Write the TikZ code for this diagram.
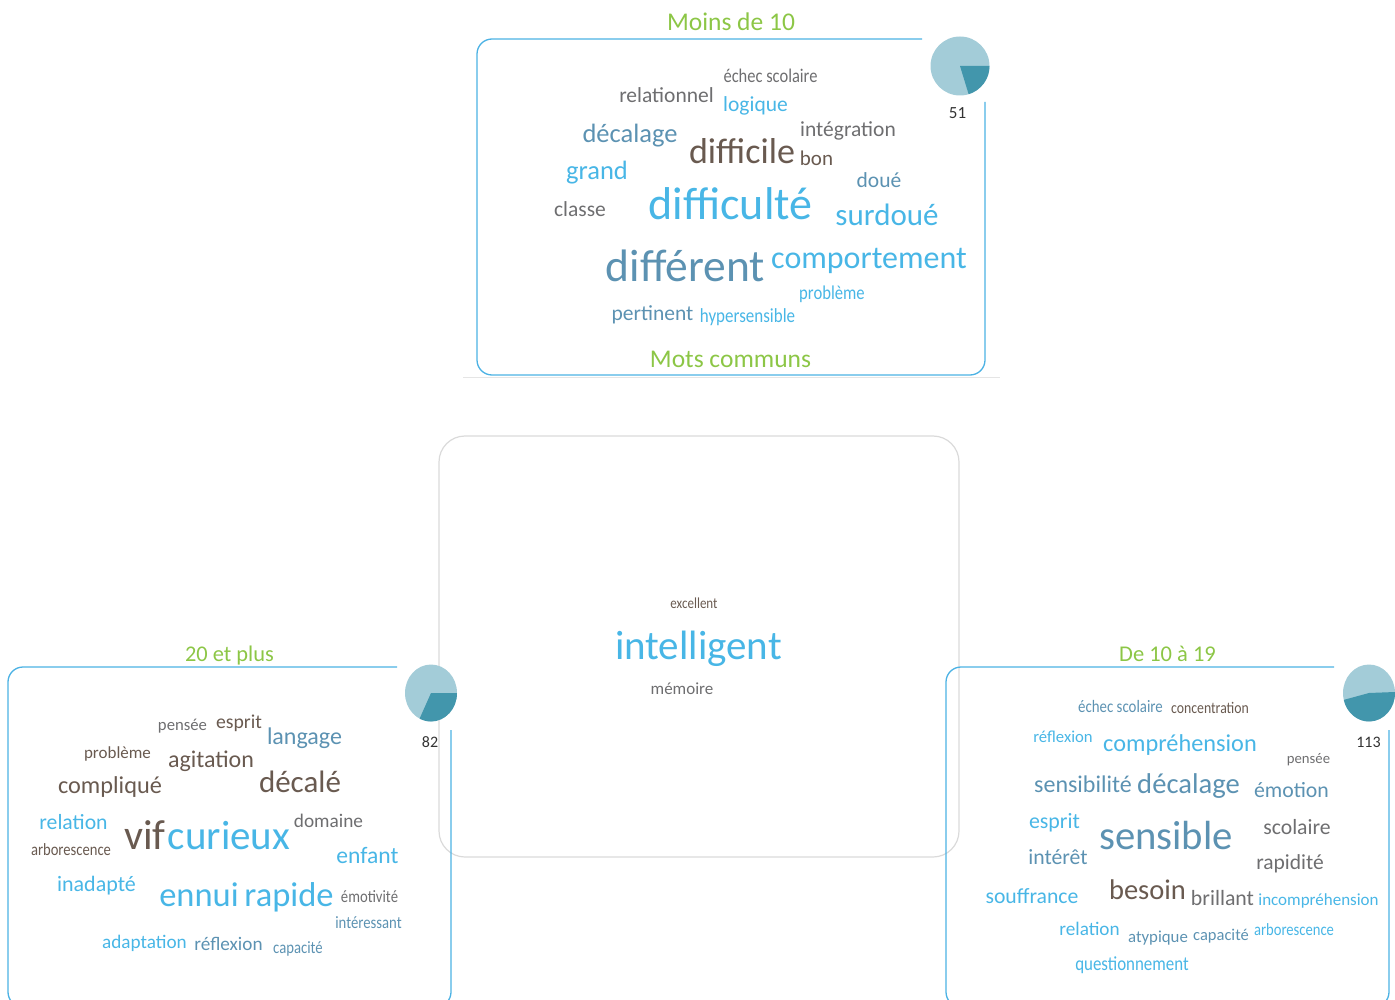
\documentclass[tikz,border=0pt]{standalone}
\usepackage{fontspec}
\setmainfont{Carlito}
\definecolor{cloudblue}{RGB}{72,182,230}
\definecolor{cloudsteel}{RGB}{92,146,178}
\definecolor{cloudgray}{RGB}{110,110,112}
\definecolor{cloudbrown}{RGB}{105,90,80}
\definecolor{titlegreen}{RGB}{140,198,70}
\definecolor{panelblue}{RGB}{76,178,228}
\definecolor{boxgray}{RGB}{218,218,218}
\definecolor{pielight}{RGB}{163,204,216}
\definecolor{piedark}{RGB}{66,150,172}
\tikzset{
    word/.style={inner sep=0pt, anchor=base},
    sz/.style={font=\fontsize{#1}{#1}\selectfont},
    csz/.style={font=\fontsize{#1}{#1}\selectfont\addfontfeatures{FakeStretch=0.85}},
    blu/.style={word, text=cloudblue},
    stl/.style={word, text=cloudsteel},
    gry/.style={word, text=cloudgray},
    brn/.style={word, text=cloudbrown},
    title/.style={word, text=titlegreen},
    count/.style={word, text=black!80, sz=16},
    panel/.style={draw=panelblue, line width=1.3pt, rounded corners=15pt},
    centrebox/.style={draw=boxgray, line width=1.2pt, rounded corners=26pt},
    shadowline/.style={draw=boxgray!70, line width=1pt},
}

\begin{document}
\begin{tikzpicture}[x=1pt, y=-1pt]
    \clip (0,0) rectangle (1395,1000);

    % frames
    \draw[centrebox] (439,436) rectangle (959,857);
    \draw[shadowline] (463,377) -- (1000,377);
    \draw[panel] (922,39) -- (477,39) -- (477,375) -- (985,375) -- (985,102);
    \draw[panel] (397,667) -- (8,667) -- (8,1007) -- (451,1007) -- (451,730);
    \draw[panel] (1334,667) -- (946,667) -- (946,1007) -- (1389,1007) -- (1389,730);

    % pies
    \coordinate (pie-moins) at (960,66);
    \coordinate (pie-plus) at (431,693);
    \coordinate (pie-de) at (1369,693);
    \fill[pielight] (pie-moins) circle[radius=29.5];
    \fill[piedark] (pie-moins) -- +(0:29.5) arc[start angle=0, end angle=73, radius=29.5] -- cycle;
    \fill[pielight] (pie-plus) circle[x radius=26, y radius=28.5];
    \fill[piedark] (pie-plus) -- +(0:26 and 28.5) arc[start angle=0, end angle=116, x radius=26, y radius=28.5] -- cycle;
    \fill[pielight] (pie-de) circle[x radius=26, y radius=28.5];
    \fill[piedark] (pie-de) -- +(-2:26 and 28.5) arc[start angle=-2, end angle=166, x radius=26, y radius=28.5] -- cycle;
    \node[count, sz=17] (n-moins) at (957.5,119) {51};
    \node[count] (n-plus) at (430,747) {82};
    \node[count] (n-de) at (1368.5,747) {113};

    % Moins de 10
    \node[title, sz=25.5] (t-moins) at (731,31) {Moins de 10};
    \node[title, sz=25.5] (t-communs) at (730.5,367) {Mots communs};
    \node[gry, csz=19.4] (m-echec) at (770.5,83) {échec scolaire};
    \node[gry, sz=21.5] (m-relationnel) at (666.5,103) {relationnel};
    \node[blu, sz=21.5] (m-logique) at (755.5,112) {logique};
    \node[gry, sz=21.5] (m-integration) at (848,137) {intégration};
    \node[stl, sz=26.5] (m-decalage) at (630,143) {décalage};
    \node[brn, sz=36] (m-difficile) at (742,164) {difficile};
    \node[brn, sz=21] (m-bon) at (816.5,166) {bon};
    \node[blu, sz=26.5] (m-grand) at (597,180) {grand};
    \node[stl, sz=21.5] (m-doue) at (879,188) {doué};
    \node[gry, sz=21.5] (m-classe) at (580,217) {classe};
    \node[blu, sz=46] (m-difficulte) at (730.5,220) {difficulté};
    \node[blu, sz=31] (m-surdoue) at (887,226) {surdoué};
    \node[stl, sz=45.5] (m-different) at (685.5,282) {différent};
    \node[blu, sz=32] (m-comportement) at (869,269) {comportement};
    \node[blu, csz=19.6] (m-probleme) at (832,300) {problème};
    \node[stl, sz=21.5] (m-pertinent) at (652.5,320) {pertinent};
    \node[blu, csz=20] (m-hypersensible) at (747.5,323) {hypersensible};

    % mots communs
    \node[brn, csz=15.3] (c-excellent) at (694,608) {excellent};
    \node[blu, sz=41] (c-intelligent) at (698.5,659) {intelligent};
    \node[gry, sz=17] (c-memoire) at (682,694) {mémoire};

    % 20 et plus
    \node[title, sz=22.4] (t-plus) at (229.5,661) {20 et plus};
    \node[gry, sz=16.7] (p-pensee) at (182.5,730) {pensée};
    \node[brn, sz=19.7] (p-esprit) at (239,728) {esprit};
    \node[stl, sz=24] (p-langage) at (304.5,744) {langage};
    \node[brn, sz=17] (p-probleme) at (117.5,758) {problème};
    \node[brn, sz=24] (p-agitation) at (211,767) {agitation};
    \node[brn, sz=24.3] (p-complique) at (110,793) {compliqué};
    \node[brn, sz=31] (p-decale) at (300,792) {décalé};
    \node[blu, sz=21.7] (p-relation) at (73.5,829) {relation};
    \node[brn, csz=17.2] (p-arborescence) at (71,855) {arborescence};
    \node[brn, sz=42] (p-vif) at (145,849) {vif};
    \node[blu, sz=41] (p-curieux) at (229,849) {curieux};
    \node[gry, sz=19.3] (p-domaine) at (328.5,827) {domaine};
    \node[blu, sz=23.6] (p-enfant) at (367.5,863) {enfant};
    \node[blu, sz=22] (p-inadapte) at (96.5,891) {inadapté};
    \node[blu, sz=34.5] (p-ennui) at (199,906) {ennui};
    \node[blu, sz=34.5] (p-rapide) at (289,906) {rapide};
    \node[gry, csz=17.3] (p-emotivite) at (369.5,902) {émotivité};
    \node[stl, csz=17.3] (p-interessant) at (368.5,928) {intéressant};
    \node[blu, sz=19.2] (p-adaptation) at (144.5,948) {adaptation};
    \node[stl, sz=19.2] (p-reflexion) at (228.5,950) {réflexion};
    \node[stl, csz=17.3] (p-capacite) at (298,953) {capacité};

    % De 10 a 19
    \node[title, sz=22.5] (t-de) at (1167.5,661) {De 10 à 19};
    \node[stl, csz=17.5] (d-echec) at (1120.5,712) {échec scolaire};
    \node[brn, csz=16.2] (d-concentration) at (1210,713) {concentration};
    \node[blu, sz=16.7] (d-reflexion) at (1063,742) {réflexion};
    \node[blu, sz=24.3] (d-comprehension) at (1180,751) {compréhension};
    \node[gry, sz=14.7] (d-pensee) at (1308.5,763) {pensée};
    \node[stl, sz=24] (d-sensibilite) at (1083,792) {sensibilité};
    \node[stl, sz=28.6] (d-decalage) at (1188.5,793) {décalage};
    \node[stl, sz=21.8] (d-emotion) at (1291.5,797) {émotion};
    \node[blu, sz=21.9] (d-esprit) at (1054.5,828) {esprit};
    \node[stl, sz=40.7] (d-sensible) at (1166,849) {sensible};
    \node[gry, sz=21.7] (d-scolaire) at (1297,834) {scolaire};
    \node[stl, sz=21.7] (d-interet) at (1058,864) {intérêt};
    \node[gry, sz=21.5] (d-rapidite) at (1290,869) {rapidité};
    \node[blu, sz=21.7] (d-souffrance) at (1032,903) {souffrance};
    \node[brn, sz=28.5] (d-besoin) at (1147.5,899) {besoin};
    \node[gry, sz=21.8] (d-brillant) at (1222.5,905) {brillant};
    \node[blu, sz=17] (d-incomprehension) at (1318.5,905) {incompréhension};
    \node[blu, sz=19.2] (d-relation) at (1089.5,935) {relation};
    \node[stl, sz=16.8] (d-atypique) at (1158,942) {atypique};
    \node[stl, sz=16.5] (d-capacite) at (1221,940) {capacité};
    \node[blu, csz=17.2] (d-arborescence) at (1294,935) {arborescence};
    \node[blu, csz=19.9] (d-questionnement) at (1132,970) {questionnement};
\end{tikzpicture}
\end{document}
